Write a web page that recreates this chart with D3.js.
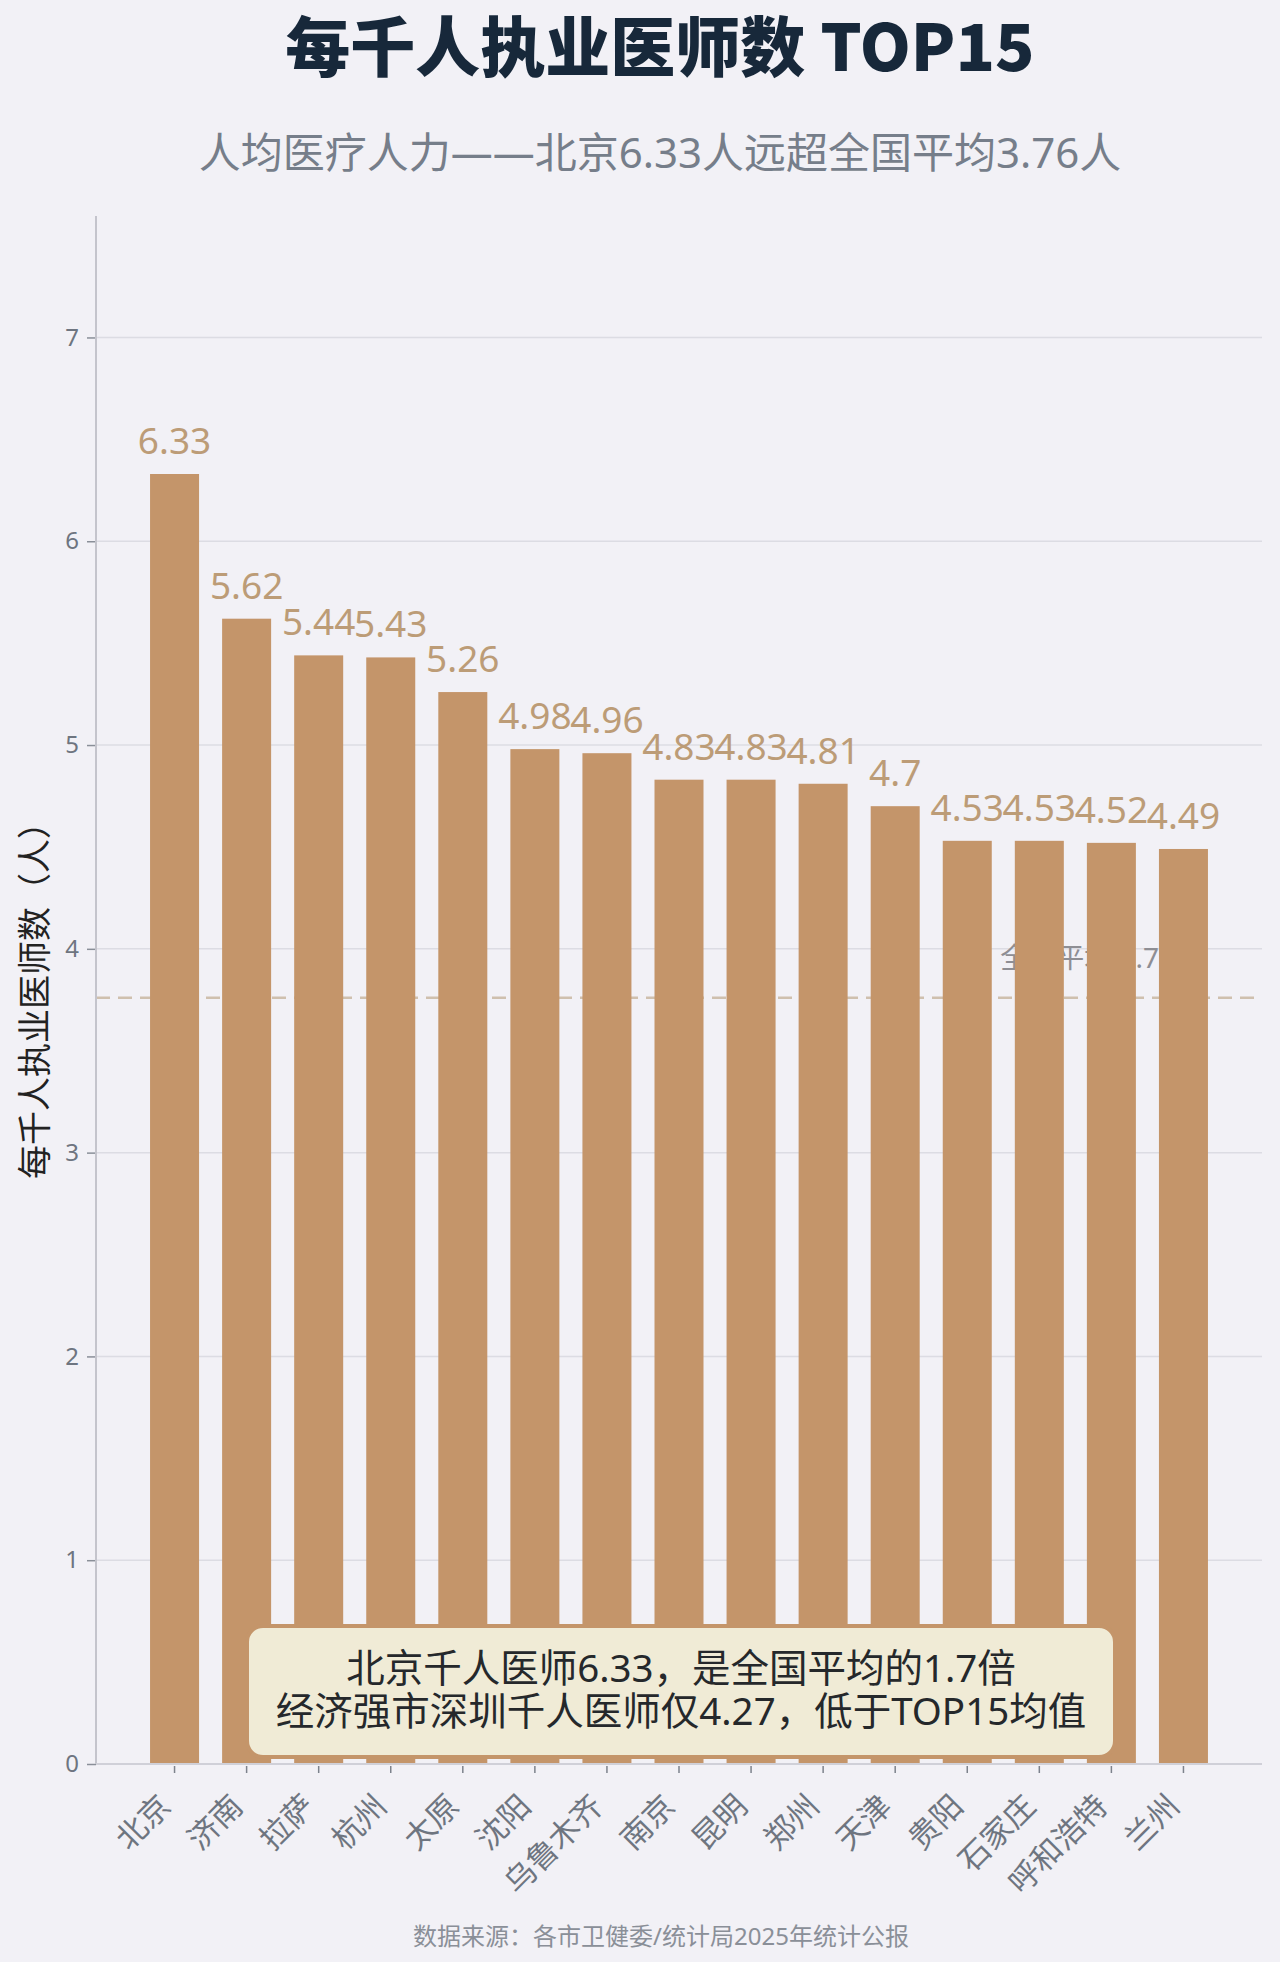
<!DOCTYPE html>
<html>
<head>
<meta charset="utf-8">
<script src="https://cdn.jsdelivr.net/npm/d3@7"></script>
<style>
  body { margin: 0; background: #f2f1f6; }
  svg { display: block; font-family: "Noto Sans", "Noto Sans CJK SC", sans-serif; }
</style>
</head>
<body>
<div id="chart"></div>
<script>
// data
var cities = ["北京", "济南", "拉萨", "杭州", "太原", "沈阳", "乌鲁木齐", "南京", "昆明", "郑州", "天津", "贵阳", "石家庄", "呼和浩特", "兰州"];
var doctors = [6.33, 5.62, 5.44, 5.43, 5.26, 4.98, 4.96, 4.83, 4.83, 4.81, 4.7, 4.53, 4.53, 4.52, 4.49];
var yTicks = [0, 1, 2, 3, 4, 5, 6, 7];
var nationalAvg = 3.76;
var noteLines = ["北京千人医师6.33，是全国平均的1.7倍", "经济强市深圳千人医师仅4.27，低于TOP15均值"];

var W = 1280, H = 1962;
var m = {left: 96, right: 1262, top: 216, bottom: 1764};
var barColor = "#c4956a";

var svg = d3.select("#chart").append("svg")
  .attr("width", W)
  .attr("height", H);

svg.append("rect").attr("width", W).attr("height", H).attr("fill", "#f2f1f6");

var x = d3.scaleBand()
  .domain(cities)
  .range([m.left, m.right])
  .paddingInner(0.32)
  .paddingOuter(0.75);

var y = d3.scaleLinear()
  .domain([0, d3.max(doctors) * 1.2])
  .range([m.bottom, m.top]);

// titles
svg.append("text")
  .attr("x", 660).attr("y", 71)
  .attr("text-anchor", "middle")
  .style("font-family", "'Noto Sans CJK SC', sans-serif")
  .style("font-size", "65px")
  .style("font-weight", "900")
  .attr("fill", "#17283a")
  .text("每千人执业医师数 TOP15");

svg.append("text")
  .attr("x", 660).attr("y", 168)
  .attr("text-anchor", "middle")
  .style("font-size", "42px")
  .attr("fill", "#767e8a")
  .text("人均医疗人力——北京6.33人远超全国平均3.76人");

// gridlines
svg.append("g")
  .selectAll("line")
  .data(yTicks.filter(function(d){ return d > 0; }))
  .enter().append("line")
  .attr("x1", m.left).attr("x2", m.right)
  .attr("y1", function(d){ return y(d); })
  .attr("y2", function(d){ return y(d); })
  .attr("stroke", "#dcdce3")
  .attr("stroke-width", 1.5);

// national average (sits below the bars)
svg.append("line")
  .attr("x1", m.left).attr("x2", m.right)
  .attr("y1", y(nationalAvg)).attr("y2", y(nationalAvg))
  .attr("stroke", "#cfc0ae")
  .attr("stroke-width", 2.5)
  .attr("stroke-dasharray", "14,8");

svg.append("text")
  .attr("x", 1175).attr("y", y(nationalAvg) - 30)
  .attr("text-anchor", "end")
  .style("font-size", "28px")
  .attr("fill", "#8e8e94")
  .text("全国平均 " + nationalAvg);

// bars
svg.append("g")
  .selectAll("rect")
  .data(doctors)
  .enter().append("rect")
  .attr("x", function(d, i){ return x(cities[i]); })
  .attr("width", x.bandwidth())
  .attr("y", function(d){ return y(d); })
  .attr("height", function(d){ return y(0) - y(d); })
  .attr("fill", barColor);

svg.append("g")
  .selectAll("text")
  .data(doctors)
  .enter().append("text")
  .attr("x", function(d, i){ return x(cities[i]) + x.bandwidth() / 2; })
  .attr("y", function(d){ return y(d) - 20; })
  .attr("text-anchor", "middle")
  .style("font-size", "37px")
  .attr("fill", "#bc9c77")
  .text(function(d){ return d; });

// y axis
var yAxis = svg.append("g")
  .attr("transform", "translate(" + m.left + ",0)")
  .call(d3.axisLeft(y).tickValues(yTicks).tickSize(9).tickPadding(8).tickFormat(d3.format("d")));
yAxis.select(".domain").remove();
yAxis.selectAll(".tick line").attr("stroke", "#8a8f98").attr("stroke-width", 1.5);
yAxis.selectAll(".tick text")
  .style("font-family", "'Noto Sans', sans-serif")
  .style("font-size", "24px")
  .attr("fill", "#6e7580");

svg.append("line")
  .attr("x1", m.left).attr("x2", m.left)
  .attr("y1", m.top).attr("y2", m.bottom)
  .attr("stroke", "#c4c4cc")
  .attr("stroke-width", 2);

svg.append("text")
  .attr("transform", "translate(35," + ((m.top + m.bottom) / 2 + 2) + ") rotate(-90)")
  .attr("text-anchor", "middle")
  .attr("dy", "0.35em")
  .style("font-family", "'Noto Sans CJK SC', sans-serif")
  .style("font-size", "34px")
  .attr("fill", "#222")
  .text("每千人执业医师数（人）");

// x axis
svg.append("line")
  .attr("x1", m.left).attr("x2", m.right)
  .attr("y1", m.bottom).attr("y2", m.bottom)
  .attr("stroke", "#d0d0d8")
  .attr("stroke-width", 2);

var xAxis = svg.append("g")
  .attr("transform", "translate(0," + (m.bottom + 2) + ")")
  .call(d3.axisBottom(x).tickSize(7).tickSizeOuter(0));
xAxis.select(".domain").remove();
xAxis.selectAll(".tick line").attr("stroke", "#7d828c").attr("stroke-width", 1.5);
xAxis.selectAll(".tick text")
  .attr("text-anchor", "end")
  .attr("dy", null)
  .attr("y", null)
  .attr("transform", "translate(-2,42) rotate(-45)")
  .style("font-family", "'Noto Sans CJK SC', sans-serif")
  .style("font-size", "31px")
  .attr("fill", "#6e7580");

// annotation box
var note = svg.append("g");
note.append("rect")
  .attr("x", 247).attr("y", 1626)
  .attr("width", 868).attr("height", 131)
  .attr("rx", 16)
  .attr("fill", "#f0ebd6")
  .attr("stroke", barColor)
  .attr("stroke-width", 4);

note.selectAll("text")
  .data(noteLines)
  .enter().append("text")
  .attr("x", 681)
  .attr("y", function(d, i){ return 1682 + i * 43; })
  .attr("text-anchor", "middle")
  .style("font-size", "38.5px")
  .attr("fill", "#25282b")
  .text(function(d){ return d; });

// source
svg.append("text")
  .attr("x", 661).attr("y", 1945)
  .attr("text-anchor", "middle")
  .style("font-size", "24px")
  .attr("fill", "#8a8f98")
  .text("数据来源：各市卫健委/统计局2025年统计公报");
</script>
</body>
</html>
